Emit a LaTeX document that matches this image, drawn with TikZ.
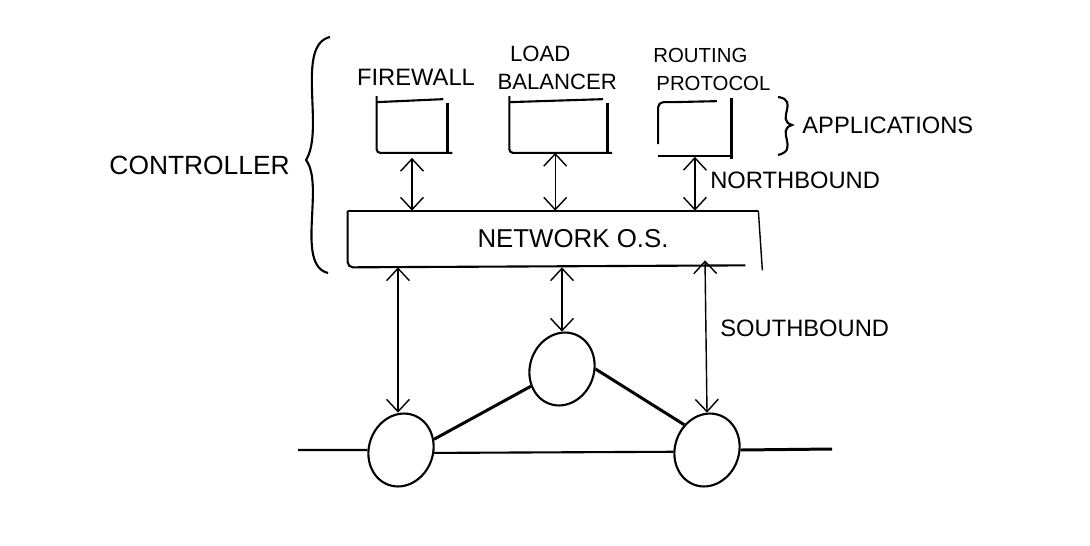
\documentclass[tikz,border=0pt]{standalone}
\usepackage{fontspec}
\setmainfont{Liberation Sans}
\usetikzlibrary{arrows.meta, positioning, shapes.geometric}

\begin{document}
\begin{tikzpicture}[
                pen/.style={line width=1.2pt, black},
                thinpen/.style={line width=0.8pt, black},
                heavypen/.style={line width=1.7pt, black},
                app/.style={minimum height=1.06cm, inner sep=0pt},
                switch/.style={draw, pen, ellipse, rotate=-20, minimum width=1.28cm, minimum height=1.48cm, inner sep=0pt},
                bound/.style={thinpen, {Straight Barb[length=7pt,width=13pt]}-{Straight Barb[length=7pt,width=13pt]}},
                caption/.style={font=\fontsize{13.5}{16}\selectfont, align=center, inner sep=0pt}]

                \useasboundingbox (0,0) rectangle (21.8,10.9);

                % Network OS in the middle, everything else hangs off it
                \node[minimum width=8.2cm, minimum height=1.12cm, inner sep=0pt] (netos) at (11.06,6.12) {};
                \node[font=\fontsize{14.7}{16}\selectfont, inner sep=0pt, xshift=0.4cm] (netostext) at (netos.center) {NETWORK O.S.};
                \draw[pen, rounded corners=3pt] (netos.north west) -- (netos.south west) -- ([xshift=-0.26cm, yshift=0.04cm]netos.south east);
                \draw[pen] (netos.north west) -- (netos.north east);
                \draw[thinpen] (netos.north east) -- ([xshift=0.08cm, yshift=-0.06cm]netos.south east);

                % Applications
                \node[app, minimum width=1.4cm] (firewall) at (8.24,8.38) {};
                \node[app, minimum width=1.94cm, right=1.24cm of firewall] (balancer) {};
                \node[app, minimum width=1.46cm, right=1.02cm of balancer] (routing) {};
                \node[caption, above=0.26cm of firewall, xshift=0.08cm] (firewalltext) {FIREWALL};
                \node[caption, font=\fontsize{12.6}{16}\selectfont, above=0.18cm of balancer, xshift=-0.02cm] (balancertext) {\hspace*{-0.68cm}LOAD\\BALANCER};
                \node[caption, font=\fontsize{11.6}{16}\selectfont, above=0.16cm of routing, xshift=0.37cm] (routingtext) {\hspace*{-0.52cm}ROUTING\\PROTOCOL};

                % Boxes are loose strokes, the corners do not quite close
                \foreach \appname in {firewall, balancer} {
                    \draw[pen, rounded corners=2pt] ([yshift=0.06cm]\appname.north west) -- (\appname.south west) -- ([xshift=0.1cm]\appname.south east);
                    \draw[pen] ([yshift=-0.06cm]\appname.north west) -- ([xshift=-0.08cm]\appname.north east);
                    \draw[heavypen] ([yshift=-0.08cm]\appname.north east) -- (\appname.south east);
                }
                \draw[pen, rounded corners=3pt] ([xshift=0.3cm, yshift=-0.06cm]routing.north west) -- ([yshift=-0.06cm]routing.north west) -- ([yshift=-0.9cm]routing.north west);
                \draw[pen] ([xshift=0.3cm, yshift=-0.06cm]routing.north west) -- ([xshift=-0.3cm, yshift=-0.04cm]routing.north east);
                \draw[pen] ([yshift=-0.06cm]routing.south west) -- ([yshift=-0.06cm]routing.south east);
                \draw[heavypen] ([yshift=0.02cm]routing.north east) -- ([yshift=-0.12cm]routing.south east);

                % Switches
                \node[switch] (top) at (11.24,3.52) {};
                \node[switch] (left) at (8.02,1.9) {};
                \node[switch] (right) at (14.14,1.9) {};

                % Links between the switches
                \draw[heavypen] (left.38) -- (top.229);
                \draw[heavypen] (top.20) -- (right.152);
                \draw[pen] (left.15) -- (right.203);
                \coordinate (leftend) at (5.96,1.9);
                \coordinate (rightend) at (16.64,1.92);
                \draw[pen] (leftend) -- (left.200);
                \draw[heavypen] (right.20) -- (rightend);

                % Northbound and southbound
                \draw[bound] ([yshift=-0.1cm]firewall.south) -- (firewall.south |- netos.north);
                \draw[bound] ([xshift=-0.06cm]balancer.south) -- ([xshift=-0.06cm]balancer.south |- netos.north);
                \draw[bound] ([yshift=-0.08cm]routing.south) -- (routing.south |- netos.north);
                \draw[bound] (left.110 -| 7.96,0) -- (7.96,0 |- netos.south);
                \draw[bound] (top.110) -- (top.110 |- netos.south);
                \draw[bound] (right.110) -- ([yshift=0.14cm]14.1,0 |- netos.south);

                % Braces
                \coordinate (bracetop) at (6.6,10.16);
                \coordinate (bracetip) at (6.12,7.7);
                \coordinate (bracelow) at (6.56,5.44);
                \draw[pen] (bracetop) .. controls (5.9,10.0) and (6.5,8.3) .. (bracetip)
                           .. controls (6.5,7.2) and (5.9,5.6) .. (bracelow);
                \coordinate (smalltop) at (15.56,8.96);
                \coordinate (smalltip) at (15.84,8.4);
                \coordinate (smalllow) at (15.56,7.8);
                \draw[pen] (smalltop) .. controls (16.0,8.9) and (15.5,8.5) .. (smalltip)
                           .. controls (15.5,8.3) and (16.0,7.9) .. (smalllow);

                % Labels
                \node[caption, font=\fontsize{15}{16}\selectfont, left=0.32cm of bracetip, yshift=-0.1cm] (controller) {CONTROLLER};
                \node[caption, right=0.2cm of smalltip] (applications) {APPLICATIONS};
                \node[caption, anchor=west] (northbound) at (14.2,7.3) {NORTHBOUND};
                \node[caption, anchor=west] (southbound) at (14.4,4.34) {SOUTHBOUND};
            \end{tikzpicture}
\end{document}
